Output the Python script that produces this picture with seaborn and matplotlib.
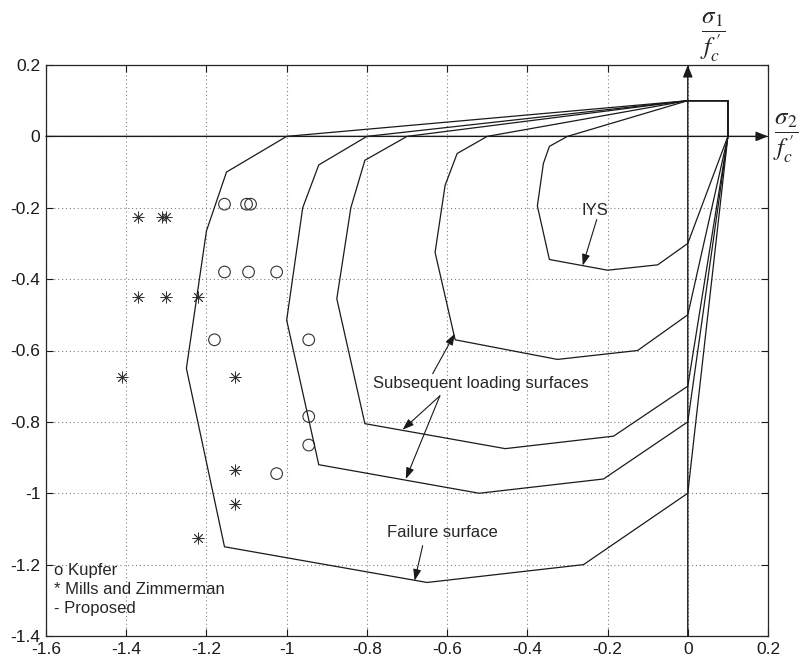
import matplotlib
matplotlib.use("Agg")
import matplotlib.pyplot as plt
import numpy as np
import pandas as pd
import seaborn as sns

# ---- yield / failure surfaces (sigma2/f'c, sigma1/f'c) ----
iys_x = [0.0, -0.30, -0.345, -0.36, -0.375, -0.345, -0.20, -0.075, 0.0]
iys_y = [0.1, 0.0, -0.028, -0.076, -0.195, -0.345, -0.375, -0.36, -0.30]

surf2_x = [0.0, -0.50, -0.575, -0.605, -0.63, -0.58, -0.325, -0.125, 0.0]
surf2_y = [0.1, 0.0, -0.048, -0.137, -0.325, -0.57, -0.625, -0.60, -0.50]

surf3_x = [0.0, -0.70, -0.805, -0.84, -0.875, -0.805, -0.455, -0.185, 0.0]
surf3_y = [0.1, 0.0, -0.067, -0.20, -0.455, -0.805, -0.875, -0.84, -0.70]

surf4_x = [0.0, -0.80, -0.92, -0.96, -1.0, -0.92, -0.52, -0.21, 0.0]
surf4_y = [0.1, 0.0, -0.08, -0.20, -0.515, -0.92, -1.0, -0.96, -0.80]

failure_x = [0.0, -1.0, -1.15, -1.20, -1.25, -1.155, -0.65, -0.26, 0.0]
failure_y = [0.1, 0.0, -0.10, -0.265, -0.65, -1.15, -1.25, -1.20, -1.0]

# shared tension corner closing every surface
corner_x = [0.1, 0.1, 0.0]
corner_y = [0.0, 0.1, 0.1]

# ---- experimental data ----
kupfer_x = [-1.155, -1.10, -1.09, -1.155, -1.095, -1.025, -1.18, -0.945, -0.945, -0.945, -1.025]
kupfer_y = [-0.19, -0.19, -0.19, -0.38, -0.38, -0.38, -0.57, -0.57, -0.785, -0.865, -0.945]

mills_x = [-1.37, -1.31, -1.30, -1.37, -1.30, -1.22, -1.41, -1.13, -1.13, -1.13, -1.22]
mills_y = [-0.225, -0.225, -0.225, -0.45, -0.45, -0.45, -0.675, -0.675, -0.935, -1.03, -1.125]

x_ticks = [-1.6, -1.4, -1.2, -1.0, -0.8, -0.6, -0.4, -0.2, 0.0, 0.2]
x_tick_labels = ["-1.6", "-1.4", "-1.2", "-1", "-0.8", "-0.6", "-0.4", "-0.2", "0", "0.2"]
y_ticks = [-1.4, -1.2, -1.0, -0.8, -0.6, -0.4, -0.2, 0.0, 0.2]
y_tick_labels = ["-1.4", "-1.2", "-1", "-0.8", "-0.6", "-0.4", "-0.2", "0", "0.2"]

sns.set_theme(style="ticks")
plt.rcParams["font.family"] = ["Liberation Sans", "DejaVu Sans"]
plt.rcParams["mathtext.fontset"] = "stix"
plt.rcParams["axes.unicode_minus"] = False

rows = []
for name, xs, ys in [("IYS", iys_x, iys_y), ("S2", surf2_x, surf2_y),
                     ("S3", surf3_x, surf3_y), ("S4", surf4_x, surf4_y),
                     ("Failure", failure_x, failure_y)]:
    px = list(xs) + corner_x
    py = list(ys) + corner_y
    for i, (a, b) in enumerate(zip(px, py)):
        rows.append({"surface": name, "order": i, "x": a, "y": b})
surfaces = pd.DataFrame(rows)

fig = plt.figure(figsize=(7.99, 6.6), dpi=100)
ax = fig.add_axes([46 / 799, 1 - 636 / 660, (768 - 46) / 799, (636 - 65) / 660])

ax.set_xlim(-1.6, 0.2)
ax.set_ylim(-1.4, 0.2)
ax.grid(True, linestyle=(0, (1, 2.5)), color="0.5", linewidth=0.8)
ax.set_axisbelow(True)

sns.lineplot(data=surfaces, x="x", y="y", units="surface", estimator=None,
             sort=False, color="0.1", linewidth=0.9, ax=ax, legend=False)

sns.scatterplot(x=kupfer_x, y=kupfer_y, marker="o", s=70, facecolors="none",
                edgecolor="0.2", linewidth=0.8, ax=ax, legend=False)
sns.scatterplot(x=mills_x, y=mills_y, marker=(8, 2, 0), s=65, color="0.2",
                linewidth=0.6, ax=ax, legend=False)

# coordinate axes through the origin
axis_arrow = dict(arrowstyle="-|>,head_length=0.45,head_width=0.18", color="k",
                  lw=1.0, mutation_scale=16, shrinkA=0, shrinkB=0)
ax.annotate("", xy=(0.2, 0.0), xytext=(-1.6, 0.0), arrowprops=axis_arrow,
            annotation_clip=False)
ax.annotate("", xy=(0.0, 0.2), xytext=(0.0, -1.4), arrowprops=axis_arrow,
            annotation_clip=False)

fig.text(713 / 799, 1 - 37 / 660, r"$\dfrac{\sigma_1}{f_c^{\,\prime}}$",
         fontsize=18, ha="center", va="center")
fig.text(786 / 799, 1 - 138 / 660, r"$\dfrac{\sigma_2}{f_c^{\,\prime}}$",
         fontsize=18, ha="center", va="center")

note_arrow = dict(arrowstyle="-|>,head_length=0.45,head_width=0.16", color="k",
                  lw=0.8, mutation_scale=15, shrinkA=0, shrinkB=0)
ax.text(-0.232, -0.208, "IYS", fontsize=12, ha="center", va="center")
ax.annotate("", xy=(-0.262, -0.362), xytext=(-0.227, -0.233), arrowprops=note_arrow)

ax.text(-0.516, -0.693, "Subsequent loading surfaces", fontsize=12,
        ha="center", va="center")
ax.annotate("", xy=(-0.581, -0.553), xytext=(-0.636, -0.665), arrowprops=note_arrow)
ax.annotate("", xy=(-0.711, -0.822), xytext=(-0.618, -0.727), arrowprops=note_arrow)
ax.annotate("", xy=(-0.703, -0.960), xytext=(-0.618, -0.727), arrowprops=note_arrow)

ax.text(-0.613, -1.111, "Failure surface", fontsize=12, ha="center", va="center")
ax.annotate("", xy=(-0.681, -1.245), xytext=(-0.661, -1.147), arrowprops=note_arrow)

for yy, label in [(-1.217, "o Kupfer"), (-1.271, "* Mills and Zimmerman"),
                  (-1.324, "- Proposed")]:
    ax.text(-1.581, yy, label, fontsize=12, ha="left", va="center")

ax.set_xticks(x_ticks)
ax.set_xticklabels(x_tick_labels)
ax.set_yticks(y_ticks)
ax.set_yticklabels(y_tick_labels)
ax.tick_params(direction="in", length=5, width=0.8, top=True, right=True,
               labelsize=12.5, pad=4, colors="k")
ax.set_xlabel("")
ax.set_ylabel("")
for sp in ax.spines.values():
    sp.set_color("0.15")
    sp.set_linewidth(0.9)

fig.savefig("out.png", dpi=100, facecolor="white")
